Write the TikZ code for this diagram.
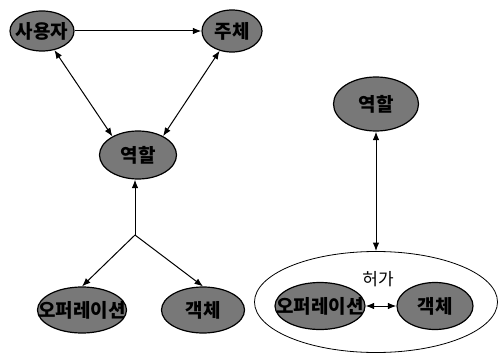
\documentclass[tikz,border=0pt]{standalone}
\usepackage{fontspec}
\newfontfamily\kr{Noto Sans CJK KR}
\usetikzlibrary{arrows.meta,shapes.geometric}
\definecolor{blobgray}{RGB}{120,120,120}
\tikzset{
  blob/.style={ellipse, draw=black, line width=1.2pt, fill=blobgray, inner sep=0pt,
    font=\kr\bfseries\fontsize{19}{21}\selectfont},
  conn/.style={line width=1pt, -{Latex[length=8.5pt,width=6.5pt]}},
  dconn/.style={line width=1pt, {Latex[length=8.5pt,width=6.5pt]}-{Latex[length=8.5pt,width=6.5pt]}},
  ring/.style={ellipse, draw=black, line width=0.8pt, inner sep=0pt}
}
\newcommand{\lbl}[1]{\makebox[0pt]{#1}}
\begin{document}
\begin{tikzpicture}[x=1pt,y=-1pt]
\useasboundingbox (0,0) rectangle (502,355);
% left diagram
\node[blob, minimum width=64pt, minimum height=40pt] (user) at (42,31) {\lbl{사용자}};
\node[blob, minimum width=60pt, minimum height=42pt] (subj) at (232,31) {\lbl{주체}};
\node[blob, minimum width=77pt, minimum height=48pt] (role) at (138,155) {\lbl{역할}};
\node[blob, minimum width=89pt, minimum height=46pt] (op) at (82,310) {\lbl{오퍼레이션}};
\node[blob, minimum width=83pt, minimum height=46pt] (obj) at (203,310) {\lbl{객체}};
\coordinate (junc) at (135,235);
\draw[conn] (user.east) -- (subj.west);
\draw[dconn] (user.-57) -- (role.144);
\draw[dconn] (subj.-122) -- (role.37);
\draw[conn] (junc) -- (junc |- role.south);
\draw[conn] (junc) -- (op.north);
\draw[conn] (junc) -- (obj.north);
% right diagram
\node[ring, minimum width=243pt, minimum height=101pt] (perm) at (376,302) {};
\node[font=\kr\fontsize{17}{19}\selectfont] (permlbl) at (378,279) {허가};
\node[blob, minimum width=85pt, minimum height=54pt] (role2) at (376,104) {\lbl{역할}};
\node[blob, minimum width=90pt, minimum height=47pt] (op2) at (320,306) {\lbl{오퍼레이션}};
\node[blob, minimum width=76pt, minimum height=47pt] (obj2) at (435,306) {\lbl{객체}};
\draw[dconn] (role2.south) -- (perm.north);
\draw[dconn] (op2.east) -- (obj2.west);
\end{tikzpicture}
\end{document}
